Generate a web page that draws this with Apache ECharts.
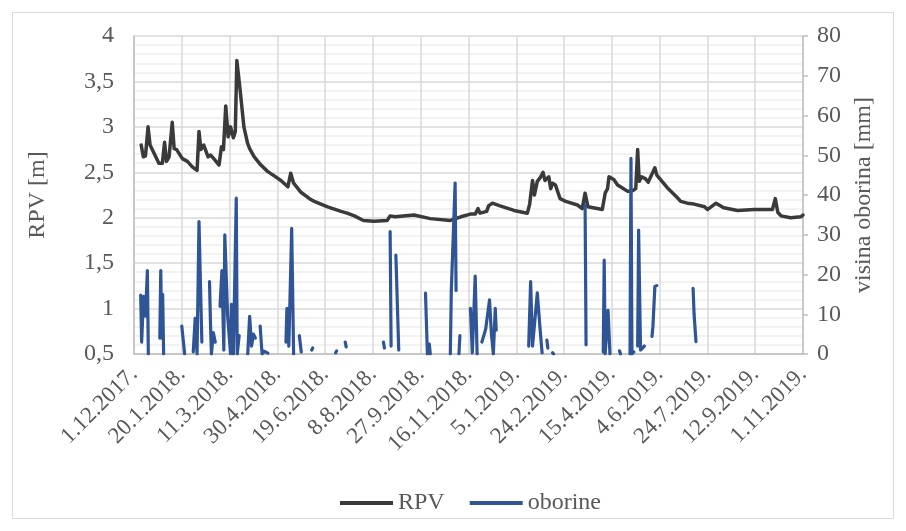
<!DOCTYPE html>
<html>
<head>
<meta charset="utf-8">
<script src="https://cdn.jsdelivr.net/npm/echarts@6/dist/echarts.min.js"></script>
<style>
html,body{margin:0;padding:0;background:#fff;}
#c{width:906px;height:531px;}
</style>
</head>
<body>
<div id="c"></div>
<script>
// x values are days since 1.12.2017
const xTickLabels = ['1.12.2017.','20.1.2018.','11.3.2018.','30.4.2018.','19.6.2018.','8.8.2018.','27.9.2018.','16.11.2018.','5.1.2019.','24.2.2019.','15.4.2019.','4.6.2019.','24.7.2019.','12.9.2019.','1.11.2019.'];

const rpvDay = [7.5,9.8,12,14.7,16.8,21,26,29.7,32,34,36.7,40,42,44.6,50.6,55.9,61,66,68,70,73,77.5,80,83.5,89,91.5,93.6,96,98.5,101,104,106,107.6,111,115,118.8,121,125.8,132.8,139.7,146.7,153.7,161,164,167,174.7,185,188.6,202.6,216.6,223,230.6,240,251,265,268,273,293,310,331,342,352,357,360,362,369,371,375,383,397.6,411.6,414,417,419,422,425.6,428,430,434,436,438,441,445.8,451.7,464,469,472,474,475,490,493,495.5,497,499,502,506,509,516.6,522,525,527,528.6,531,535,538,540,545,547,558,568.6,572,579,586,597,600,609,617,631.6,649,668,671,673.6,677,687,698,700];
const rpvValue = [2.80,2.67,2.68,3.00,2.80,2.71,2.60,2.60,2.83,2.62,2.67,3.05,2.76,2.75,2.65,2.62,2.56,2.52,2.95,2.75,2.80,2.67,2.69,2.65,2.58,2.78,2.75,3.23,2.89,3.00,2.88,2.95,3.73,3.41,3.00,2.82,2.76,2.67,2.58,2.51,2.46,2.41,2.34,2.49,2.38,2.28,2.20,2.18,2.12,2.07,2.05,2.02,1.97,1.96,1.97,2.02,2.01,2.03,1.99,1.97,2.01,2.04,2.04,2.10,2.05,2.07,2.13,2.16,2.13,2.08,2.05,2.15,2.41,2.25,2.40,2.45,2.50,2.41,2.45,2.32,2.38,2.36,2.21,2.18,2.14,2.10,2.27,2.28,2.12,2.09,2.27,2.32,2.45,2.45,2.42,2.36,2.34,2.29,2.30,2.32,2.75,2.40,2.45,2.43,2.39,2.41,2.55,2.47,2.33,2.22,2.18,2.16,2.15,2.12,2.09,2.16,2.11,2.08,2.09,2.09,2.21,2.06,2.02,2.00,2.01,2.03];

// null separates rain events (days without data)
const oborineDay = [7,8,10,12,14,15,null,27,28,29,30,31,null,50,53,null,62,64,66,67,68,71,null,79,80,81,83,85,null,90,92,94,95,98,101,102,104,107,108,110,null,119,121,123,125,127,null,132,134,136,140,null,159,160,162,165,167,null,173,175,null,186,187,null,211,212,null,221,222,null,261,262,null,268,269,null,274,277,null,305,307,null,309,310,null,331,332,334,336,337,null,340,341,null,352,354,357,359,null,364,365,368,372,374,376,378,379,null,413,415,417,419,422,425,427,null,432,433,null,438,439,null,472,473,null,491,492,493,496,498,null,508,509,null,519,520,521,523,null,527,528,530,532,534,null,542,543,545,547,null,585,586,588];
const oborineMm = [14.8,3,14.5,9.5,21,0,null,4,21,4,15,0,null,7,0,null,0.5,9,0,0,33.3,3,null,18.2,8,0,5.4,3,null,12,21,1,30,9.5,0,12.5,0,39.2,0,4.6,null,0,9.5,2,5,4,null,7,0,0.7,0.2,null,3,11.5,2,31.6,0,null,4.6,0.5,null,1,1.5,null,0.3,0.8,null,3,1.8,null,3,1.5,null,30.8,2,null,24.9,1,null,15.3,0,null,2.5,0,null,0,16,16.5,43,16,null,0,4.6,null,11.5,0.3,19.6,0,null,3,3.8,6.3,13.6,5,0,11.5,6,null,2,18.2,2,2,15.4,6,0.3,null,3.5,1.5,null,0.3,0,null,37.5,2.3,null,0.5,23.6,0,11,0,null,0.8,0,null,0,49.2,0,0.5,null,2,31.2,1,1.5,2,null,4.4,7,17,17.2,null,16.5,10.2,3.1];

const rpvData = rpvDay.map((d, i) => [d, rpvValue[i]]);
const oborineData = oborineDay.map((d, i) => d === null ? [null, null] : [d, oborineMm[i]]);

const FONT = '"Liberation Serif", "Times New Roman", serif';
const TXT = '#595959';
const FS = 24;
const chart = echarts.init(document.getElementById('c'), null, {renderer: 'canvas'});
chart.setOption({
  animation: false,
  backgroundColor: '#fff',
  textStyle: {fontFamily: FONT},
  graphic: [{
    type: 'rect', silent: true, z: -10,
    shape: {x: 12.5, y: 12.5, width: 881, height: 506},
    style: {fill: 'none', stroke: '#d9d9d9', lineWidth: 1}
  }],
  grid: {left: 134, right: 103, top: 36, bottom: 177, containLabel: false},
  legend: {
    top: 486, left: 335,
    icon: 'rect', itemWidth: 53, itemHeight: 4, itemGap: 25,
    textStyle: {fontFamily: FONT, fontSize: FS, color: TXT},
    data: ['RPV', 'oborine']
  },
  xAxis: {
    type: 'value', min: 0, max: 700, interval: 50,
    axisLine: {show: true, lineStyle: {color: '#bfbfbf', width: 1.5}},
    axisTick: {show: false},
    splitLine: {show: true, lineStyle: {color: '#d9d9d9', width: 1.5}},
    axisLabel: {
      rotate: 45, margin: 17, color: TXT, fontFamily: FONT, fontSize: 23,
      formatter: v => xTickLabels[Math.round(v / 50)] || ''
    }
  },
  yAxis: [{
    type: 'value', min: 0.5, max: 4, interval: 0.5, position: 'left',
    name: 'RPV [m]', nameLocation: 'middle', nameGap: 84, nameRotate: 90,
    nameTextStyle: {fontFamily: FONT, fontSize: FS, color: TXT},
    axisLine: {show: true, lineStyle: {color: '#bfbfbf', width: 1.5}},
    axisTick: {show: false},
    splitLine: {show: true, lineStyle: {color: '#d9d9d9', width: 1.5}},
    minorTick: {show: false, splitNumber: 5},
    minorSplitLine: {show: true, lineStyle: {color: '#eeeeee', width: 1.5}},
    axisLabel: {margin: 20, color: TXT, fontFamily: FONT, fontSize: FS,
      formatter: v => String(v).replace('.', ',')}
  }, {
    type: 'value', min: 0, max: 80, interval: 10, position: 'right',
    name: 'visina oborina [mm]', nameLocation: 'middle', nameGap: 35, nameRotate: 90,
    nameTextStyle: {fontFamily: FONT, fontSize: FS, color: TXT},
    axisLine: {show: true, lineStyle: {color: '#bfbfbf', width: 1.5}},
    axisTick: {show: true, inside: false, length: 5, lineStyle: {color: '#bfbfbf', width: 1.5}},
    splitLine: {show: false},
    axisLabel: {margin: 14, color: TXT, fontFamily: FONT, fontSize: FS}
  }],
  series: [{
    name: 'RPV', type: 'line', yAxisIndex: 0, symbol: 'none',
    data: rpvData,
    lineStyle: {color: '#3a3a3a', width: 3.5, cap: 'round', join: 'round'},
    itemStyle: {color: '#3a3a3a'}
  }, {
    name: 'oborine', type: 'line', yAxisIndex: 1, symbol: 'none',
    connectNulls: false,
    data: oborineData,
    lineStyle: {color: '#2f5597', width: 3.2, cap: 'round', join: 'round'},
    itemStyle: {color: '#2f5597'}
  }]
});
</script>
</body>
</html>
